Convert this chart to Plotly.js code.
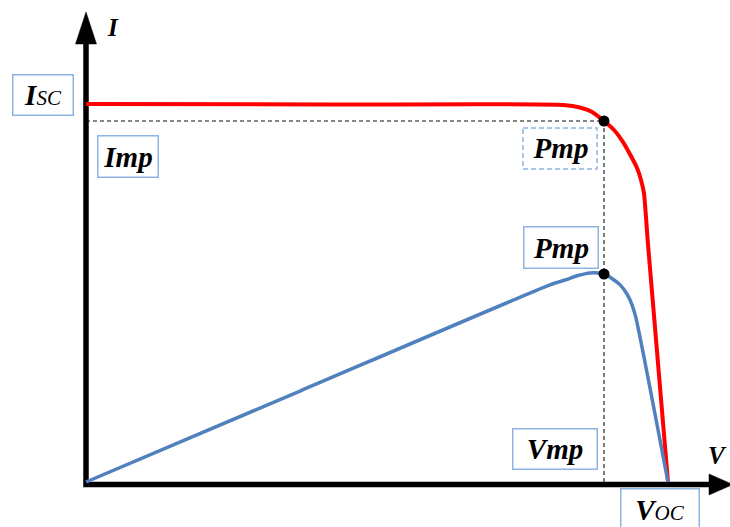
<!DOCTYPE html>
<html>
<head>
<meta charset="utf-8">
<script src="https://cdn.plot.ly/plotly-3.0.1.min.js"></script>
<style>
  html, body { margin: 0; padding: 0; background: #ffffff; }
  #chart { width: 730px; height: 527px; }
</style>
</head>
<body>
<div id="chart"></div>
<script>
// Photovoltaic module characteristics: I–V curve (current) and P–V curve (power)
const voltageIV = [0, 9.22, 18.03, 18.67, 19.13, 19.58, 19.96, 20.30, 20.60, 20.83, 20.98, 21.09, 21.24, 22.0];
const currentIV = [5.00, 4.993, 4.987, 4.954, 4.894, 4.775, 4.656, 4.497, 4.312, 4.153, 3.995, 3.823, 3.161, 0];

const voltagePV = [0, 8.09, 17.54, 18.11, 18.60, 19.05, 19.35, 19.58, 19.88, 20.19, 20.45, 20.64, 20.79, 22.0];
const powerPV   = [0, 40.9, 88.6, 90.8, 92.8, 93.95, 93.95, 93.5, 91.5, 88.6, 84.5, 79.6, 73.7, 0];

// Maximum power point
const Vmp = 19.58;
const Imp = 4.775;
const Pmp = 93.5;

// Text of the boxed labels
const labelIsc = "<b>I</b><span style='font-size:21px'>SC</span>";
const labelImp = "<b>Imp</b>";
const labelPmp = "<b>Pmp</b>";
const labelVmp = "<b>Vmp</b>";
const labelVoc = "<b>V</b><span style='font-size:21px'>OC</span>";
const axisLabelI = "<b>I</b>";
const axisLabelV = "<b>V</b>";

const W = 730, H = 527;
const px = x => x / W;          // pixel -> paper x
const py = y => 1 - y / H;      // pixel -> paper y

const serif = 'Liberation Serif, Times New Roman, serif';
const boxBlue = '#8db3e2';

const traces = [
  { // dashed guide lines to the maximum power point
    x: [0, Vmp, Vmp], y: [Imp, Imp, 0],
    mode: 'lines', line: { color: '#111111', width: 1.1, dash: '4px,3px' },
    hoverinfo: 'skip', yaxis: 'y'
  },
  { // power curve
    x: voltagePV, y: powerPV, yaxis: 'y2',
    mode: 'lines', line: { color: '#5080bd', width: 3.5, shape: 'spline', smoothing: 0.6 }
  },
  { // current curve
    x: voltageIV, y: currentIV, yaxis: 'y',
    mode: 'lines', line: { color: '#ff0000', width: 4, shape: 'spline', smoothing: 0.6 }
  },
  { // MPP on the I–V curve
    x: [Vmp], y: [Imp], yaxis: 'y', mode: 'markers',
    marker: { color: '#000000', size: 11 }, cliponaxis: false
  },
  { // MPP on the P–V curve
    x: [Vmp], y: [Pmp], yaxis: 'y2', mode: 'markers',
    marker: { color: '#000000', size: 11 }, cliponaxis: false
  }
];

function box(text, cx, cy, w, h, bordered) {
  return {
    xref: 'paper', yref: 'paper', x: px(cx), y: py(cy),
    xanchor: 'center', yanchor: 'middle',
    text: text, showarrow: false,
    width: w - 2, height: h - 2, align: 'center', valign: 'middle',
    bordercolor: bordered ? boxBlue : 'rgba(0,0,0,0)', borderwidth: 1.5, borderpad: 0,
    bgcolor: 'rgba(255,255,255,0)',
    font: { family: serif, size: 29, color: '#000000', style: 'italic', weight: 'normal' }
  };
}

const layout = {
  width: W, height: H,
  margin: { l: 0, r: 0, t: 0, b: 0 },
  paper_bgcolor: '#ffffff', plot_bgcolor: '#ffffff',
  showlegend: false,
  xaxis: { range: [-3.2509, 24.3436], visible: false, fixedrange: true },
  yaxis: { range: [-0.5952, 6.3757], visible: false, fixedrange: true },
  yaxis2: { range: [-20.228, 216.67], visible: false, overlaying: 'y', fixedrange: true },
  shapes: [
    { // coordinate axes
      type: 'path', xref: 'paper', yref: 'paper', layer: 'below',
      path: `M ${px(86)},${py(40)} L ${px(86)},${py(484.5)} L ${px(712)},${py(484.5)}`,
      line: { color: '#000000', width: 5.5 }
    },
    { // arrowhead of the current axis
      type: 'path', xref: 'paper', yref: 'paper',
      path: `M ${px(75.5)},${py(44)} L ${px(96.5)},${py(44)} L ${px(86)},${py(12)} Z`,
      fillcolor: '#000000', line: { color: '#000000', width: 0.5 }
    },
    { // arrowhead of the voltage axis
      type: 'path', xref: 'paper', yref: 'paper',
      path: `M ${px(709)},${py(474)} L ${px(709)},${py(495)} L ${px(733)},${py(484.5)} Z`,
      fillcolor: '#000000', line: { color: '#000000', width: 0.5 }
    },
    { // dashed frame of the upper Pmp label
      type: 'rect', xref: 'paper', yref: 'paper',
      x0: px(523), x1: px(597), y0: py(128), y1: py(169),
      line: { color: boxBlue, width: 1.5, dash: '5px,3px' }, fillcolor: 'rgba(0,0,0,0)'
    }
  ],
  annotations: [
    box(labelIsc, 42.5, 95.5, 61, 41, true),
    box(labelImp, 127.5, 156, 61, 42, true),
    box(labelPmp, 560, 148.5, 74, 41, false),
    box(labelPmp, 560.5, 247, 75, 42, true),
    box(labelVmp, 554.5, 448.5, 85, 41, true),
    box(labelVoc, 659.5, 509, 79, 42, true),
    {
      xref: 'paper', yref: 'paper', x: px(113), y: py(27),
      xanchor: 'center', yanchor: 'middle', showarrow: false, text: axisLabelI,
      font: { family: serif, size: 25, color: '#000000', style: 'italic' }
    },
    {
      xref: 'paper', yref: 'paper', x: px(729), y: py(455),
      xanchor: 'right', yanchor: 'middle', showarrow: false, text: axisLabelV,
      font: { family: serif, size: 25, color: '#000000', style: 'italic' }
    }
  ]
};

Plotly.newPlot('chart', traces, layout, { displayModeBar: false, staticPlot: true });
</script>
</body>
</html>
